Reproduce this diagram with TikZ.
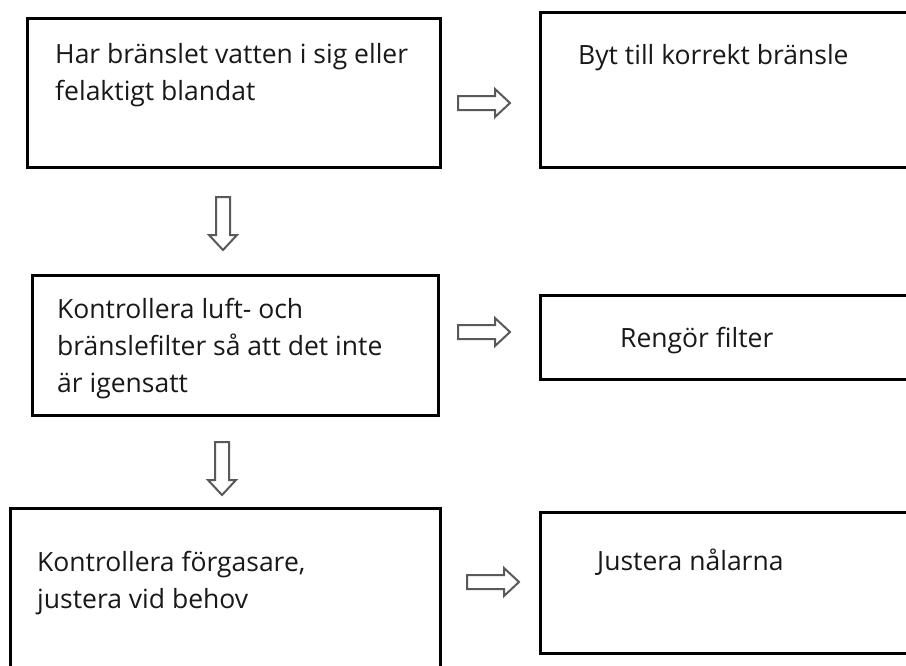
\documentclass[tikz,border=0pt]{standalone}
\usepackage{fontspec}
\setmainfont{Open Sans}
\begin{document}
\begin{tikzpicture}[x=1pt,y=-1pt,
  box/.style={draw=black,line width=3pt,fill=white},
  txt/.style={anchor=base west,inner sep=0pt,align=left,text=black!90,font=\fontsize{26.5}{37}\selectfont},
  arr/.style={draw=black!65,line width=2pt,fill=white,line join=miter}]
\useasboundingbox (0,0) rectangle (906,665);
% boxes
\draw[box] (27,18) rectangle (440,167);
\draw[box] (540,12) rectangle (920,167);
\draw[box] (32,275) rectangle (438,415);
\draw[box] (540,295) rectangle (920,379);
\draw[box] (10,508) rectangle (440,690);
\draw[box] (540,512) rectangle (920,653);
% texts (anchored at baseline of last line)
\node[txt] (t1) at (55,100) {Har bränslet vatten i sig eller\\felaktigt blandat};
\node[txt] (t2) at (57,392) {Kontrollera luft- och\\bränslefilter så att det inte\\är igensatt};
\node[txt] (t3) at (37,608) {Kontrollera förgasare,\\justera vid behov};
\node[txt] (u1) at (578,64) {Byt till korrekt bränsle};
\node[txt] (u2) at (620,347) {Rengör filter};
\node[txt] (u3) at (597,570) {Justera nålarna};
% right arrows
\foreach \x/\y in {458/103, 458/332, 467/582}{
  \draw[arr] (\x,\y-7) -- ++(37,0) -- ++(0,-7) -- ++(15,14) -- ++(-15,14) -- ++(0,-7) -- ++(-37,0) -- cycle;
}
% down arrows
\foreach \x/\y/\l in {223/197/38, 222/442/38}{
  \draw[arr] (\x-7,\y) -- ++(0,\l) -- ++(-7,0) -- ++(14,15) -- ++(14,-15) -- ++(-7,0) -- ++(0,-\l) -- cycle;
}
\end{tikzpicture}
\end{document}
